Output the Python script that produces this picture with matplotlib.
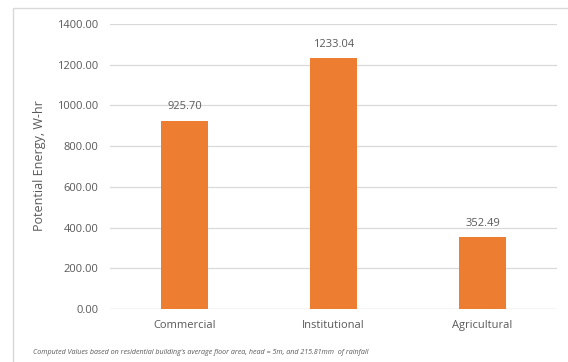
import matplotlib.pyplot as plt
import matplotlib.patches as mpatches

# potential energy per building category
categories = ['Commercial', 'Institutional', 'Agricultural']
energy = [925.70, 1233.04, 352.49]
yticks = [0, 200, 400, 600, 800, 1000, 1200, 1400]

plt.rcParams['font.family'] = ['Open Sans', 'DejaVu Sans']
grey = '#595959'
orange = '#ED7D31'

W, H = 568, 362
fig = plt.figure(figsize=(W / 100, H / 100), dpi=100)
ax = fig.add_axes([110 / W, 1 - 309 / H, 447 / W, 285 / H])

x = range(len(categories))
bars = ax.bar(x, energy, width=0.315, color=orange, zorder=3)
for b, v in zip(bars, energy):
    ax.text(b.get_x() + b.get_width() / 2, v + 40, '%.2f' % v,
            ha='center', va='bottom', fontsize=8, color=grey)

ax.set_xlim(-0.5, 2.5)
ax.set_ylim(0, 1400)
ax.set_yticks(yticks)
ax.set_yticklabels(['%.2f' % t for t in yticks])
ax.set_xticks(list(x))
ax.set_xticklabels(categories)
ax.tick_params(axis='both', length=0, labelsize=8, colors=grey)
ax.tick_params(axis='y', pad=8.5)
ax.tick_params(axis='x', pad=8)
ax.grid(axis='y', color='#d9d9d9', linewidth=0.9, zorder=0)
for s in ax.spines.values():
    s.set_visible(False)
ax.axhline(0, color='#d9d9d9', linewidth=0.9, zorder=1)

fig.text(40 / W, 1 - 166 / H, 'Potential Energy, W-hr', rotation=90,
         ha='center', va='center', fontsize=9, color=grey)
fig.text(33 / W, 1 - 352 / H,
         "Computed Values based on residential building's average floor area, head = 5m, and 215.81mm  of rainfall",
         ha='left', va='center', fontsize=5.1, style='italic', color=grey)

# chart border
fig.patches.append(mpatches.Rectangle((13 / W, -0.1), 1.0, 1 - 8 / H + 0.1,
                                      transform=fig.transFigure, fill=False,
                                      edgecolor='#d9d9d9', linewidth=1.0))

fig.savefig('out.png', dpi=100)
